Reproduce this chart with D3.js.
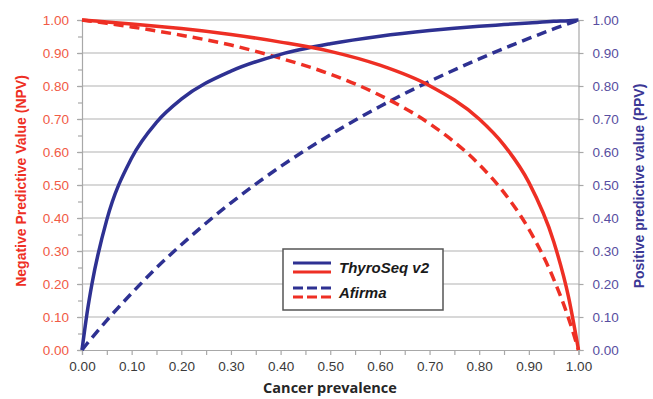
<!DOCTYPE html>
<html>
<head>
<meta charset="utf-8">
<script src="https://cdn.jsdelivr.net/npm/d3@7"></script>
<style>
  body { margin: 0; background: #fff; }
  svg { display: block; }
</style>
</head>
<body>
<div id="chart"></div>
<script>
// values
const prevalence = [0, 0.01, 0.02, 0.05, 0.1, 0.15, 0.2, 0.3, 0.4, 0.5, 0.6, 0.7, 0.8, 0.85, 0.9, 0.95, 0.98, 1];
const thyroNPV  = [1, 0.999, 0.998, 0.994, 0.988, 0.981, 0.974, 0.956, 0.933, 0.905, 0.863, 0.801, 0.700, 0.621, 0.508, 0.329, 0.160, 0];
const thyroPPV  = [0, 0.110, 0.200, 0.395, 0.582, 0.690, 0.760, 0.845, 0.896, 0.928, 0.951, 0.968, 0.981, 0.986, 0.991, 0.996, 0.998, 1];
const afirmaNPV = [1, 0.998, 0.996, 0.990, 0.979, 0.967, 0.954, 0.924, 0.884, 0.836, 0.772, 0.686, 0.562, 0.477, 0.366, 0.215, 0.096, 0];
const afirmaPPV = [0, 0.019, 0.037, 0.090, 0.172, 0.249, 0.319, 0.446, 0.556, 0.652, 0.738, 0.814, 0.882, 0.914, 0.944, 0.973, 0.989, 1];
const tickValues = [0, 0.1, 0.2, 0.3, 0.4, 0.5, 0.6, 0.7, 0.8, 0.9, 1];
const minorTicks = d3.range(21).map(i => i * 0.05);
const legendLabels = ['ThyroSeq v2', 'Afirma'];

const RED = '#ee2f24';
const BLUE = '#2e3192';

const width = 653, height = 399;
const margin = { top: 20, right: 74.5, bottom: 49, left: 82 };
const innerWidth = width - margin.left - margin.right;
const innerHeight = height - margin.top - margin.bottom;

const svg = d3.select('#chart').append('svg')
  .attr('width', width)
  .attr('height', height);

const g = svg.append('g')
  .attr('transform', `translate(${margin.left},${margin.top})`);

const x = d3.scaleLinear().domain([0, 1]).range([0, innerWidth]);
const y = d3.scaleLinear().domain([0, 1]).range([innerHeight, 0]);

const fmt = d3.format('.2f');

// Gridlines
g.append('g')
  .selectAll('line')
  .data(tickValues.slice(1))
  .enter().append('line')
  .attr('x1', 0).attr('x2', innerWidth)
  .attr('y1', d => y(d)).attr('y2', d => y(d))
  .attr('stroke', '#cbcbcb')
  .attr('stroke-width', 1.5);

// Left axis (NPV) - minor ticks every 0.05
const yLeftMinor = g.append('g')
  .call(d3.axisLeft(y).tickValues(minorTicks).tickSize(4).tickFormat(''));
yLeftMinor.selectAll('text').remove();
yLeftMinor.selectAll('line, path').attr('stroke', '#a8a8a8').attr('stroke-width', 1.2);

const yLeft = g.append('g')
  .call(d3.axisLeft(y).tickValues(tickValues).tickSize(5).tickPadding(8).tickFormat(fmt));
yLeft.select('.domain').remove();
yLeft.selectAll('line').attr('stroke', '#a8a8a8').attr('stroke-width', 1.2);
yLeft.selectAll('text')
  .attr('fill', '#f15a45')
  .style('font-family', 'Liberation Sans, Arial, sans-serif')
  .style('font-size', '13.5px');

// Right axis (PPV)
const yRight = g.append('g')
  .attr('transform', `translate(${innerWidth},0)`)
  .call(d3.axisRight(y).tickValues(tickValues).tickSize(5).tickPadding(9).tickFormat(fmt));
yRight.select('.domain').attr('stroke', '#a8a8a8').attr('stroke-width', 1.2);
yRight.selectAll('line').attr('stroke', '#a8a8a8').attr('stroke-width', 1.2);
yRight.selectAll('text')
  .attr('fill', '#574ea0')
  .style('font-family', 'Liberation Sans, Arial, sans-serif')
  .style('font-size', '13.5px');

// Bottom axis
const xMinor = g.append('g')
  .attr('transform', `translate(0,${innerHeight})`)
  .call(d3.axisBottom(x).tickValues(minorTicks).tickSize(5).tickFormat(''));
xMinor.selectAll('text').remove();
xMinor.selectAll('line, path').attr('stroke', '#a8a8a8').attr('stroke-width', 1.2);

const xAxis = g.append('g')
  .attr('transform', `translate(0,${innerHeight})`)
  .call(d3.axisBottom(x).tickValues(tickValues).tickSize(0).tickPadding(11).tickFormat(fmt));
xAxis.select('.domain').remove();
xAxis.selectAll('text')
  .attr('fill', '#3a3a3a')
  .style('font-family', 'Liberation Sans, Arial, sans-serif')
  .style('font-size', '13.5px');

// Curves
const line = d3.line()
  .x(d => x(d[0]))
  .y(d => y(d[1]))
  .curve(d3.curveMonotoneX);

const series = [
  { values: afirmaPPV, color: BLUE, dash: '10,6' },
  { values: afirmaNPV, color: RED, dash: '10,6' },
  { values: thyroPPV, color: BLUE, dash: null },
  { values: thyroNPV, color: RED, dash: null }
];

g.selectAll('.curve')
  .data(series)
  .enter().append('path')
  .attr('class', 'curve')
  .attr('d', s => line(prevalence.map((p, i) => [p, s.values[i]])))
  .attr('fill', 'none')
  .attr('stroke', s => s.color)
  .attr('stroke-width', 3.5)
  .attr('stroke-dasharray', s => s.dash);

// Legend
const legend = svg.append('g').attr('transform', 'translate(283,249)');
legend.append('rect')
  .attr('width', 160).attr('height', 61)
  .attr('fill', '#fff')
  .attr('stroke', '#555')
  .attr('stroke-width', 1.5);

legendLabels.forEach((label, i) => {
  const row = legend.append('g').attr('transform', `translate(0,${14 + i * 25})`);
  const dash = i === 0 ? null : '10,4';
  row.append('line')
    .attr('x1', 10).attr('x2', 48).attr('y1', 0).attr('y2', 0)
    .attr('stroke', BLUE).attr('stroke-width', 3).attr('stroke-dasharray', dash);
  row.append('line')
    .attr('x1', 10).attr('x2', 48).attr('y1', 9).attr('y2', 9)
    .attr('stroke', RED).attr('stroke-width', 3).attr('stroke-dasharray', dash);
  row.append('text')
    .attr('x', 56).attr('y', 10)
    .attr('fill', '#1a1a1a')
    .style('font-family', 'Liberation Sans, Arial, sans-serif')
    .style('font-size', '15px')
    .style('font-weight', 'bold')
    .style('font-style', 'italic')
    .text(label);
});

// Axis titles
svg.append('text')
  .attr('transform', 'translate(26,181) rotate(-90)')
  .attr('text-anchor', 'middle')
  .attr('fill', RED)
  .style('font-family', 'Liberation Sans, Arial, sans-serif')
  .style('font-size', '14px')
  .style('font-weight', 'bold')
  .text('Negative Predictive Value (NPV)');

svg.append('text')
  .attr('transform', 'translate(644,186) rotate(-90)')
  .attr('text-anchor', 'middle')
  .attr('fill', '#3b3795')
  .style('font-family', 'Liberation Sans, Arial, sans-serif')
  .style('font-size', '14px')
  .style('font-weight', 'bold')
  .text('Positive predictive value (PPV)');

svg.append('text')
  .attr('x', 330).attr('y', 393)
  .attr('text-anchor', 'middle')
  .attr('fill', '#262626')
  .style('font-family', 'Open Sans, sans-serif')
  .style('font-size', '14.5px')
  .style('font-weight', 'bold')
  .text('Cancer prevalence');
</script>
</body>
</html>
